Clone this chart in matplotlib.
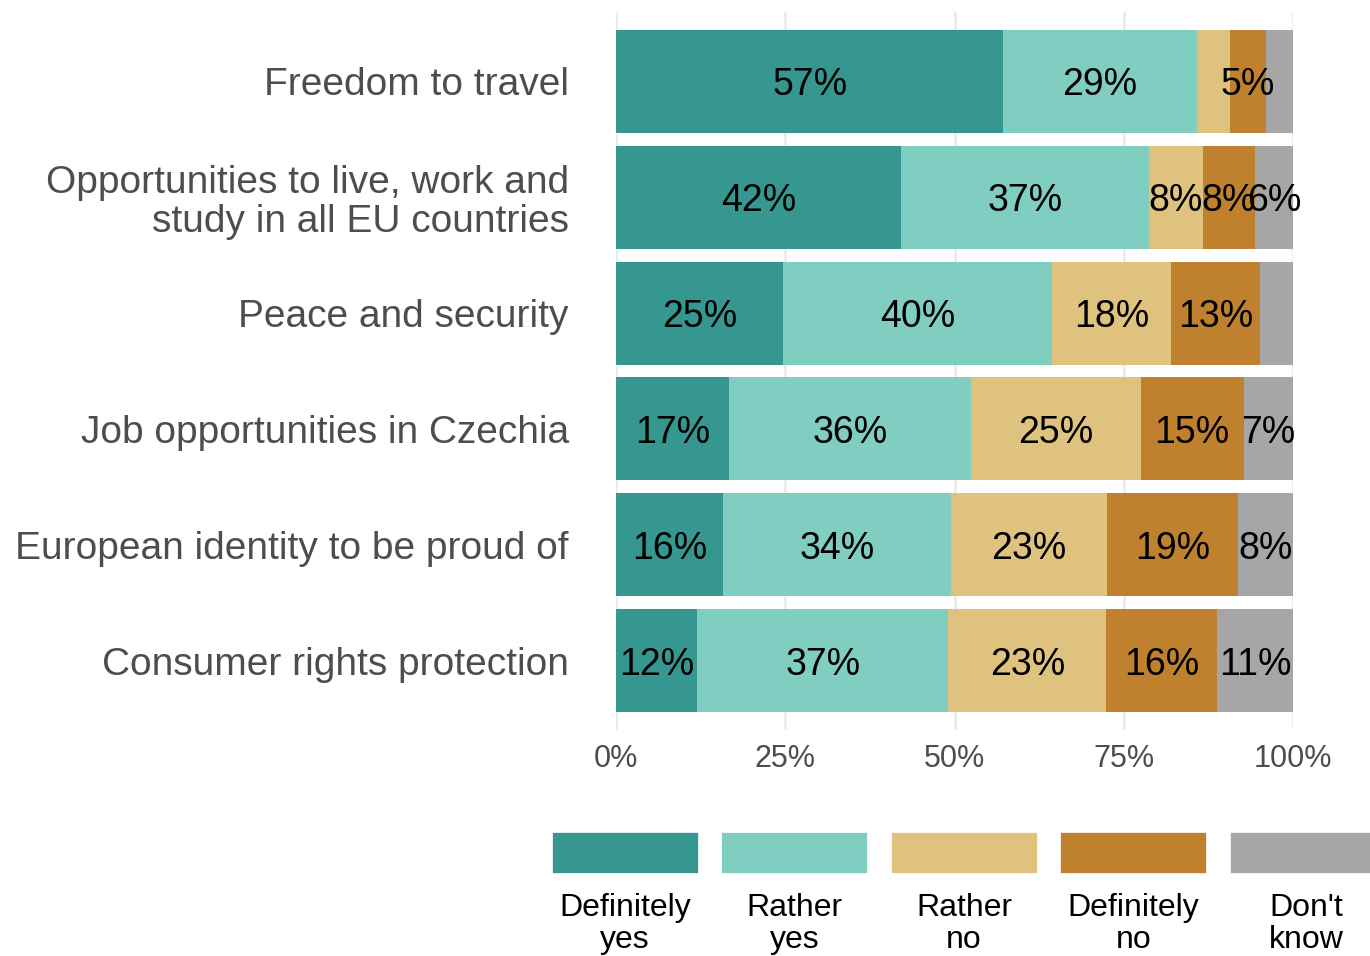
import matplotlib
matplotlib.use("Agg")
import matplotlib.pyplot as plt
from matplotlib.patches import Rectangle

categories = [
    "Freedom to travel",
    "Opportunities to live, work and\nstudy in all EU countries",
    "Peace and security",
    "Job opportunities in Czechia",
    "European identity to be proud of",
    "Consumer rights protection",
]
responses = ["Definitely\nyes", "Rather\nyes", "Rather\nno", "Definitely\nno", "Don't\nknow"]
definitely_yes = [57.2, 42.1, 24.7, 16.7, 15.8, 12.0]
rather_yes = [28.6, 36.6, 39.7, 35.7, 33.7, 37.1]
rather_no = [4.9, 8.0, 17.6, 25.1, 23.0, 23.3]
definitely_no = [5.3, 7.7, 13.1, 15.2, 19.4, 16.4]
dont_know = [4.0, 5.6, 4.9, 7.3, 8.1, 11.2]
colors = ["#35978f", "#80cdc1", "#dfc27d", "#bf812d", "#a6a6a6"]
xticks = [0, 25, 50, 75, 100]
xticklabels = ["0%", "25%", "50%", "75%", "100%"]

series = [definitely_yes, rather_yes, rather_no, definitely_no, dont_know]

W, H = 1370, 956
fig = plt.figure(figsize=(W / 100, H / 100), dpi=100)
plt.rcParams['font.family'] = ['Liberation Sans', 'DejaVu Sans']

ax = fig.add_axes([616 / W, 1 - 730 / H, (1293 - 616) / W, (730 - 12) / H])
n = len(categories)
ypos = list(range(n))
left = [0.0] * n
for vals, col in zip(series, colors):
    ax.barh(ypos, vals, left=left, height=0.89, color=col, zorder=2, linewidth=0)
    for i, v in enumerate(vals):
        if v >= 5:
            ax.text(left[i] + v / 2, ypos[i], f"{round(v)}%", ha="center", va="center_baseline",
                    fontsize=27, color="black", zorder=3)
    left = [l + v for l, v in zip(left, vals)]

ax.set_ylim(n - 1 + 0.6, -0.6)
ax.set_xlim(0, 100)
ax.set_yticks(ypos)
ax.set_yticklabels(categories, fontsize=28, color="#4d4d4d", linespacing=1.1)
for t in ax.get_yticklabels():
    t.set_verticalalignment("center_baseline")
ax.set_xticks(xticks)
ax.set_xticklabels(xticklabels, fontsize=22, color="#4d4d4d")
ax.tick_params(axis="y", length=0, pad=34)
ax.tick_params(axis="x", length=0, pad=10)
for s in ax.spines.values():
    s.set_visible(False)
ax.grid(axis="x", color="#ebebeb", linewidth=2, zorder=0)
ax.set_axisbelow(True)

# legend
lax = fig.add_axes([0, 0, 1, 1])
lax.set_xlim(0, W)
lax.set_ylim(H, 0)
lax.axis("off")
x0, pitch, kw, ky, kh = 552, 169.5, 146, 832, 41
for j, (lab, col) in enumerate(zip(responses, colors)):
    x = x0 + j * pitch
    lax.add_patch(Rectangle((x, ky), kw, kh, facecolor=col, edgecolor="white", linewidth=0.5))
    lax.text(x + kw / 2 + (3 if j == 4 else 0), 924, lab, ha="center", va="center", fontsize=23,
             color="black", linespacing=1.05)

fig.savefig("out.png", dpi=100, facecolor="white")
